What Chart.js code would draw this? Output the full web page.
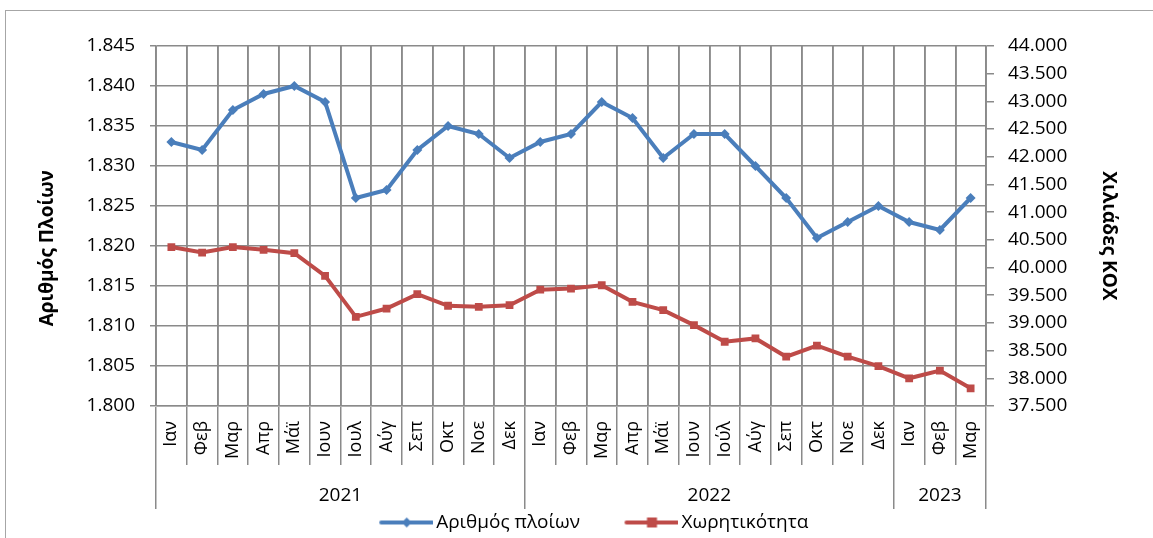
<!DOCTYPE html>
<html><head><meta charset="utf-8">
<script src="https://cdn.jsdelivr.net/npm/chart.js@4"></script>
<style>html,body{margin:0;padding:0;background:#fff}canvas{display:block}</style>
</head><body>
<canvas id="c" width="1153" height="538"></canvas>
<script>
const months = ['Ιαν','Φεβ','Μαρ','Απρ','Μάϊ','Ιουν','Ιουλ','Αύγ','Σεπ','Οκτ','Νοε','Δεκ',
                'Ιαν','Φεβ','Μαρ','Απρ','Μάϊ','Ιουν','Ιούλ','Αύγ','Σεπ','Οκτ','Νοε','Δεκ',
                'Ιαν','Φεβ','Μαρ'];
const years = ['2021','2022','2023'];
const monthsPerYear = [12,12,3];
const ships = [1833,1832,1837,1839,1840,1838,1826,1827,1832,1835,1834,1831,
               1833,1834,1838,1836,1831,1834,1834,1830,1826,1821,1823,1825,
               1823,1822,1826];
const tonnage = [40370,40270,40370,40320,40260,39850,39110,39260,39520,39310,39290,39320,
                 39600,39620,39680,39380,39230,38960,38660,38720,38390,38590,38390,38220,
                 38000,38140,37820];
const shipsTicks = {min:1800, max:1845, step:5};
const tonnageTicks = {min:37500, max:44000, step:500};
const seriesNames = ['Αριθμός πλοίων','Χωρητικότητα'];
const axisTitles = ['Αριθμός Πλοίων','Χιλιάδες ΚΟΧ'];

const FONT = "'Open Sans', sans-serif";
const GRID = '#8a8a8a';
const BLUE = '#4A7EBB';
const RED = '#BE4B48';
const NB = '\u00A0';
const fmt = n => String(Math.round(n)).replace(/\B(?=(\d{3})+(?!\d))/g, '.');

// year grouping ticks (boundaries + centres) in category index units
const yearBoundaries = [-0.5];
const yearCentres = [];
{ let acc = -0.5; monthsPerYear.forEach(n => { yearCentres.push(acc + n/2); acc += n; yearBoundaries.push(acc); }); }
const yearTickValues = yearBoundaries.concat(yearCentres).sort((a,b)=>a-b);
const isBoundary = v => yearBoundaries.some(b => Math.abs(b - v) < 1e-6);
const yearLabelFor = v => { const i = yearCentres.findIndex(c => Math.abs(c - v) < 1e-6); return i >= 0 ? years[i] : ''; };

// legend icons (line with marker)
const LEG_BOX = 82;
function legendIcon(color, shape) {
  const c = document.createElement('canvas');
  c.width = LEG_BOX + 13; c.height = 14;
  const g = c.getContext('2d');
  const o = LEG_BOX - 40;
  g.strokeStyle = color; g.lineWidth = 4; g.lineCap = 'round';
  g.beginPath(); g.moveTo(o + 1, 7); g.lineTo(o + 52, 7); g.stroke();
  g.fillStyle = color;
  const cx = o + 26.5;
  if (shape === 'diamond') {
    g.beginPath(); g.moveTo(cx, 2); g.lineTo(cx + 5, 7); g.lineTo(cx, 12); g.lineTo(cx - 5, 7); g.closePath(); g.fill();
  } else {
    g.fillRect(cx - 5, 2, 10, 10);
  }
  return c;
}
const icons = [legendIcon(BLUE, 'diamond'), legendIcon(RED, 'square')];

const framePlugin = {
  id: 'frame',
  beforeDraw(chart) {
    const ctx = chart.ctx;
    ctx.save();
    ctx.strokeStyle = '#a6a6a6'; ctx.lineWidth = 1;
    ctx.strokeRect(5.5, 10.5, 1300, 700);
    ctx.restore();
  }
};

// vertical month grid lines in the plot area, positioned by the x and y scales
function strokeMonthGrid(chart, composite) {
  const xs = chart.scales.x, ys = chart.scales.y, ctx = chart.ctx;
  if (!xs || !ys) return;
  const top = ys.getPixelForValue(shipsTicks.max);
  const bottom = ys.getPixelForValue(shipsTicks.min);
  if (!isFinite(top) || !isFinite(bottom)) return;
  ctx.save();
  if (composite) ctx.globalCompositeOperation = composite;
  ctx.setLineDash([]);
  ctx.globalAlpha = 1;
  ctx.strokeStyle = GRID; ctx.lineWidth = 1.5;
  for (let i = 0; i <= months.length; i++) {
    const p = xs.getPixelForValue(i - 0.5);
    if (!isFinite(p)) continue;
    const px = Math.round(p - 0.75) + 0.75;
    ctx.beginPath(); ctx.moveTo(px, top); ctx.lineTo(px, bottom); ctx.stroke();
  }
  ctx.restore();
}
const monthGridPlugin = {
  id: 'monthGrid',
  beforeDatasetsDraw(chart) { strokeMonthGrid(chart, null); },
  afterDraw(chart) { strokeMonthGrid(chart, 'destination-over'); }
};

new Chart(document.getElementById('c'), {
  type: 'line',
  data: {
    labels: months,
    datasets: [
      { label: seriesNames[0], data: ships, yAxisID: 'y', xAxisID: 'x',
        borderColor: BLUE, backgroundColor: BLUE, borderWidth: 4,
        pointStyle: 'rectRot', pointRadius: 5, pointBorderWidth: 0, tension: 0 },
      { label: seriesNames[1], data: tonnage, yAxisID: 'y1', xAxisID: 'x',
        borderColor: RED, backgroundColor: RED, borderWidth: 4,
        pointStyle: 'rect', pointRadius: 5.5, pointBorderWidth: 0, tension: 0 }
    ]
  },
  options: {
    responsive: false, animation: false, devicePixelRatio: 1,
    events: [],
    layout: { padding: { top: 46, left: 0, right: 0, bottom: -4 } },
    plugins: {
      tooltip: { enabled: false },
      legend: {
        position: 'bottom', align: 'center',
        labels: {
          usePointStyle: true, pointStyleWidth: LEG_BOX, padding: 10,
          color: '#000', font: { family: FONT, size: 19 },
          generateLabels: chart => chart.data.datasets.map((ds, i) => ({
            text: ds.label, pointStyle: icons[i], fillStyle: 'rgba(0,0,0,0)',
            strokeStyle: 'rgba(0,0,0,0)', lineWidth: 0, hidden: false, datasetIndex: i
          }))
        }
      }
    },
    scales: {
      x: {
        type: 'category', position: 'bottom', offset: true,
        afterFit: s => { s.height = 59; },
        grid: { offset: true, color: GRID, lineWidth: 1.5, tickLength: 59 },
        ticks: { autoSkip: false, minRotation: 90, maxRotation: 90, padding: -44,
                 color: '#000', font: { family: FONT, size: 18 } }
      },
      xYear: {
        type: 'linear', position: 'bottom', min: -0.5, max: 26.5,
        afterFit: s => { s.height = 38; },
        afterBuildTicks: s => { s.ticks = yearTickValues.map(v => ({ value: v })); },
        grid: { drawOnChartArea: false, tickLength: 44, lineWidth: 1.5,
                color: ctx => (ctx.tick && isBoundary(ctx.tick.value)) ? GRID : 'rgba(0,0,0,0)' },
        border: { display: false },
        ticks: { autoSkip: false, maxRotation: 0, minRotation: 0, padding: -25,
                 color: '#000', font: { family: FONT, size: 19 },
                 callback: v => yearLabelFor(v) }
      },
      y: {
        type: 'linear', position: 'left',
        min: shipsTicks.min, max: shipsTicks.max,
        afterFit: s => { s.width = 156; },
        grid: { color: GRID, lineWidth: 1.5, tickLength: 6 },
        border: { display: true, color: GRID, width: 1.5 },
        ticks: { stepSize: shipsTicks.step, padding: 15, color: '#000',
                 font: { family: FONT, size: 19 }, callback: v => fmt(v) },
        title: { display: true, text: axisTitles[0] + NB.repeat(9), color: '#000',
                 font: { family: FONT, size: 19, weight: 'bold' }, padding: { top: 36, bottom: 0 } }
      },
      y1: {
        type: 'linear', position: 'right',
        min: tonnageTicks.min, max: tonnageTicks.max,
        afterFit: s => { s.width = 167; },
        grid: { drawOnChartArea: false, color: GRID, lineWidth: 1.5, tickLength: 8 },
        border: { display: true, color: GRID, width: 1.5 },
        ticks: { stepSize: tonnageTicks.step, padding: 14, color: '#000',
                 font: { family: FONT, size: 19 }, callback: v => fmt(v) },
        title: { display: true, text: NB.repeat(4) + axisTitles[1], color: '#000',
                 font: { family: FONT, size: 19, weight: 'bold' }, padding: { top: 33, bottom: 0 } }
      }
    }
  },
  plugins: [framePlugin, monthGridPlugin]
});
</script>
</body></html>
